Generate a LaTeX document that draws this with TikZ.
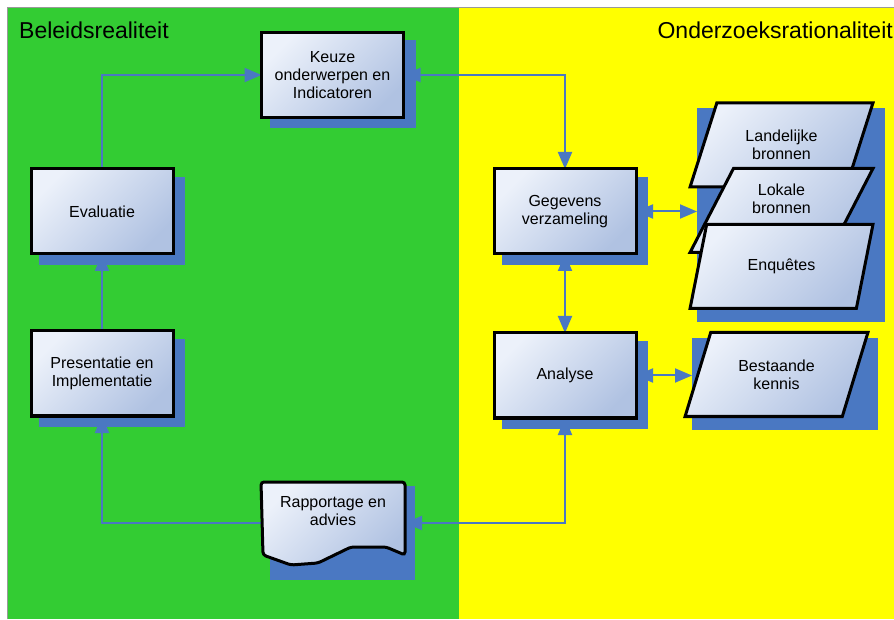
\documentclass[tikz,border=0pt]{standalone}
\usepackage{fontspec}
\setmainfont{Liberation Sans}
\usetikzlibrary{shapes, arrows.meta, positioning, shapes.geometric, shadows}

\definecolor{panelgreen}{RGB}{51,204,51}
\definecolor{panelyellow}{RGB}{255,255,0}
\definecolor{linkblue}{RGB}{74,120,194}
\definecolor{boxlight}{RGB}{236,241,250}
\definecolor{boxdark}{RGB}{176,194,226}

\pgfdeclarelayer{panel}
\pgfdeclarelayer{lines}
\pgfdeclarelayer{front}
\pgfsetlayers{panel,lines,main,front}

\begin{document}
\begin{tikzpicture}
[x=1pt, y=1pt, >={Triangle[width=14pt,length=17pt]},
StepNode/.style={rectangle, draw=black, line width=3pt, outer sep=0pt,
minimum width=142pt, minimum height=85pt, inner sep=2pt, align=center,
top color=boxlight, bottom color=boxdark, shading angle=45,
font=\fontsize{16}{18}\selectfont,
drop shadow={shadow xshift=10pt, shadow yshift=-9pt, shadow scale=1.03, fill=linkblue, opacity=1}},
SourceNode/.style={trapezium, trapezium left angle=63.4, trapezium right angle=116.6,
trapezium stretches=true, draw=black, line width=3pt, outer sep=0pt,
minimum width=183pt, minimum height=84pt, inner sep=0pt, align=center,
top color=boxlight, bottom color=boxdark, shading angle=45,
font=\fontsize{16}{18}\selectfont},
ShadowNode/.style={rectangle, fill=linkblue, inner sep=0pt, outer sep=0pt},
DocNode/.style={draw=black, line width=3pt, rounded corners=3pt,
top color=boxlight, bottom color=boxdark, shading angle=45},
DocText/.style={rectangle, outer sep=0pt, minimum width=144pt, minimum height=82pt,
align=center, font=\fontsize{16}{18}\selectfont},
TitleNode/.style={inner sep=0pt, font=\fontsize{23}{26}\selectfont},
Link/.style={draw=linkblue, line width=2pt}
]
\useasboundingbox (0,0) rectangle (894,619);

\begin{pgfonlayer}{panel}
\fill[panelgreen] (8,0) rectangle (459,611);
\fill[panelyellow] (459,0) rectangle (894,611);
\draw[gray!80, line width=1.5pt] (7.5,0) -- (7.5,611.5) -- (894,611.5);
\end{pgfonlayer}

\node[TitleNode, anchor=base west] (BeleidTitel) at (19,580) {Beleidsrealiteit};
\node[TitleNode, anchor=base east] (OnderzoekTitel) at (893,580) {Onderzoeksrationaliteit};

\node[StepNode] (Keuze) at (332.5,544) {Keuze\\onderwerpen en\\Indicatoren};
\node[StepNode] (Evaluatie) at (102,407.5) {Evaluatie};
\node[StepNode] (Presentatie) [below=77pt of Evaluatie] {Presentatie en\\Implementatie};
\node[StepNode] (Gegevens) [right=321pt of Evaluatie] {Gegevens\\verzameling};
\node[StepNode] (Analyse) [below=79pt of Gegevens] {Analyse};

% bronnen
\node[ShadowNode, minimum width=188pt, minimum height=214pt] (Bronnen) at (791,404) {};
\node[SourceNode] (Landelijke) at (781.5,474) {Landelijke\\bronnen};
\node[SourceNode] (Lokale) at (781.5,408.5) {Lokale\\bronnen\\\strut};
\node[SourceNode] (Enquetes) at (781.5,352.5) {Enquêtes};
\node[ShadowNode, minimum width=186pt, minimum height=92pt] (BestaandeSchaduw) at (785,235) {};
\node[SourceNode] (Bestaande) at (776.5,244.5) {Bestaande\\kennis};

% rapportage (document shape)
\begin{pgfonlayer}{front}
\node[DocText] (Rapportage) at (333,96) {Rapportage en\\advies\\\strut};
\end{pgfonlayer}
\node[ShadowNode, minimum width=145pt, minimum height=94pt] (RapportageSchaduw) at (342.5,86) {};
\draw[DocNode] (Rapportage.north west) -- (Rapportage.north east) -- ++(0,-73)
  -- ++(-19,8) -- ++(-35,0) -- ++(-33,-16) -- ++(-27,-2) -- ++(-28,10) -- cycle;

\begin{pgfonlayer}{lines}
\draw[Link, ->] (Evaluatie.north) |- (Keuze.west);
\draw[Link, <->] (Keuze.east) -| (Gegevens.north);
\draw[Link, <->] (Gegevens.south) -- (Analyse.north);
\draw[Link, <->] (Gegevens.east) -- (Gegevens -| Bronnen.west);
\draw[Link, <->] (Analyse.east) -- (Analyse -| BestaandeSchaduw.west);
\draw[Link, <->] (Analyse.south) |- (Rapportage.east);
\draw[Link, ->] (Rapportage.west) -| (Presentatie.south);
\draw[Link, ->] (Presentatie.north) -- (Evaluatie.south);
\end{pgfonlayer}
\end{tikzpicture}
\end{document}
